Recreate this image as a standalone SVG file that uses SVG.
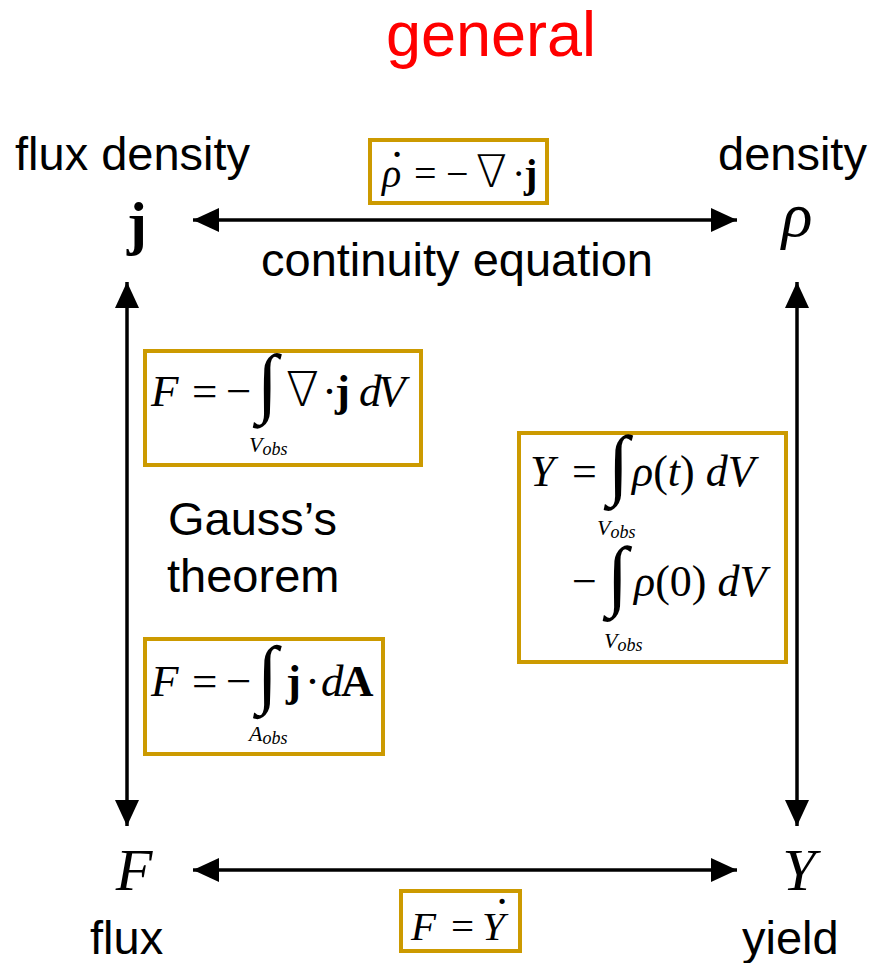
<svg xmlns="http://www.w3.org/2000/svg" width="875" height="963" viewBox="0 0 875 963">
<defs>
<marker id="ah" viewBox="0 0 26 24" refX="26" refY="12" markerWidth="26" markerHeight="24" markerUnits="userSpaceOnUse" orient="auto-start-reverse">
<path d="M0,0 L26,12 L0,24 Z" fill="#000"/>
</marker>
</defs>
<style>
.lbl{font-family:"Liberation Sans",Arial,sans-serif;font-size:47px;fill:#000}
.m{font-family:"Liberation Serif","Times New Roman",serif;fill:#000}
.i{font-style:italic}
.b{font-weight:bold}
.nab{font-family:"DejaVu Sans","Liberation Serif",serif;font-weight:200}
.sub{font-family:"Liberation Serif","Times New Roman",serif;font-style:italic;font-size:22px;fill:#000}
.box{fill:#fff;stroke:#CC9A00;stroke-width:4}
.conn{stroke:#000;stroke-width:3.5;fill:none}
</style>
<rect width="875" height="963" fill="#fff"/>
<text x="491" y="56" text-anchor="middle" style="font-family:'Liberation Sans',Arial,sans-serif;font-size:63px;fill:#FF0000">general</text>

<g id="connectors">
<line class="conn" x1="193" y1="220" x2="737" y2="220" marker-start="url(#ah)" marker-end="url(#ah)"/>
<line class="conn" x1="193" y1="870" x2="737" y2="870" marker-start="url(#ah)" marker-end="url(#ah)"/>
<line class="conn" x1="127" y1="282" x2="127" y2="826" marker-start="url(#ah)" marker-end="url(#ah)"/>
<line class="conn" x1="797" y1="282" x2="797" y2="826" marker-start="url(#ah)" marker-end="url(#ah)"/>
</g>

<g id="node-j">
<text class="lbl" x="15" y="170">flux density</text>
<text class="m b" x="137" y="243" text-anchor="middle" font-size="60">j</text>
</g>
<g id="node-rho">
<text class="lbl" x="718" y="170">density</text>
<text class="m i" x="797" y="236" text-anchor="middle" font-size="64">ρ</text>
</g>
<g id="node-F">
<text class="m i" x="134" y="890" text-anchor="middle" font-size="60">F</text>
<text class="lbl" x="90" y="954">flux</text>
</g>
<g id="node-Y">
<text class="m i" x="799" y="890" text-anchor="middle" font-size="60">Y</text>
<text class="lbl" x="742" y="954">yield</text>
</g>

<g id="label-continuity">
<rect class="box" x="370" y="140" width="177" height="63"/>
<text class="m" y="187" font-size="40"><tspan class="i" x="382">ρ</tspan><tspan x="414">=</tspan><tspan x="446">−</tspan><tspan class="nab" x="476" font-size="45">∇</tspan><tspan x="512">·</tspan><tspan class="b" x="524">j</tspan></text>
<text class="m" x="397" y="169" text-anchor="middle" font-size="44">·</text>
<text class="lbl" x="457" y="276" text-anchor="middle">continuity equation</text>
</g>

<g id="label-gauss">
<rect class="box" x="145" y="351" width="276" height="114"/>
<text class="m" y="406" font-size="45"><tspan class="i" x="151">F</tspan><tspan x="192">=</tspan><tspan x="226">−</tspan></text>
<text class="m" x="257" y="408" font-size="77">∫</text>
<text class="m" y="406" font-size="45"><tspan class="nab" x="286" font-size="48">∇</tspan><tspan x="322">·</tspan><tspan class="b" x="335">j</tspan><tspan class="i" x="359">d</tspan><tspan class="i" x="378">V</tspan></text>
<text class="sub" x="249" y="452">V<tspan font-size="18" dy="3">obs</tspan></text>

<text class="lbl" x="168" y="535">Gauss’s</text>
<text class="lbl" x="167" y="592">theorem</text>

<rect class="box" x="145" y="639" width="238" height="115"/>
<text class="m" y="696" font-size="45"><tspan class="i" x="151">F</tspan><tspan x="192">=</tspan><tspan x="226">−</tspan></text>
<text class="m" x="257" y="699" font-size="76">∫</text>
<text class="m" y="696" font-size="45"><tspan class="b" x="286">j</tspan><tspan x="305">·</tspan><tspan class="i" x="321">d</tspan><tspan class="b" x="341">A</tspan></text>
<text class="sub" x="249" y="741">A<tspan font-size="18" dy="3">obs</tspan></text>
</g>

<g id="label-yield">
<rect class="box" x="519" y="433" width="267" height="229"/>
<text class="m" y="486" font-size="44"><tspan class="i" x="530">Y</tspan><tspan x="572">=</tspan></text>
<text class="m" x="608" y="490" font-size="78">∫</text>
<text class="m" x="632" y="486" font-size="44"><tspan class="i">ρ</tspan>(<tspan class="i">t</tspan>) <tspan class="i">dV</tspan></text>
<text class="sub" x="597" y="535">V<tspan font-size="18" dy="3">obs</tspan></text>
<text class="m" x="572" y="596" font-size="44">−</text>
<text class="m" x="607" y="601" font-size="78">∫</text>
<text class="m" x="634" y="596" font-size="44"><tspan class="i">ρ</tspan>(0) <tspan class="i">dV</tspan></text>
<text class="sub" x="604" y="648">V<tspan font-size="18" dy="3">obs</tspan></text>
</g>

<g id="label-flux-yield">
<rect class="box" x="401" y="891" width="119" height="60"/>
<text class="m" y="940" font-size="41"><tspan class="i" x="411">F</tspan><tspan x="451">=</tspan><tspan class="i" x="482">Y</tspan></text>
<text class="m" x="502" y="916" text-anchor="middle" font-size="44">·</text>
</g>
</svg>
